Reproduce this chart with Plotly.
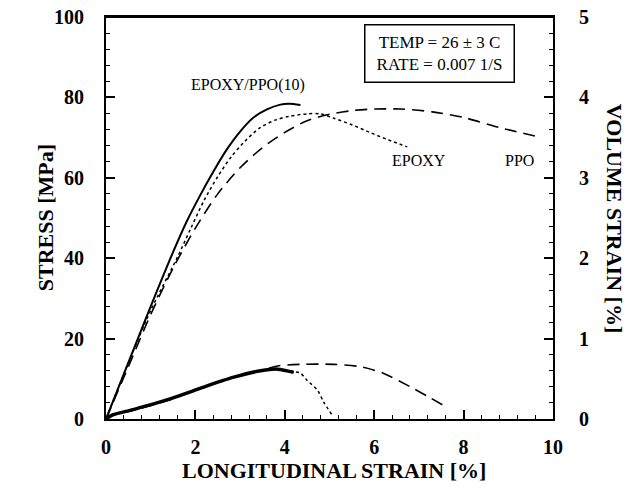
import plotly.graph_objects as go

# ---- data ----
# Stress curves (left axis, MPa) vs longitudinal strain (%)
blend_strain = [0, 0.5, 1.0, 1.5, 1.8, 2.1, 2.4, 2.7, 3.0, 3.3, 3.6, 3.9, 4.1, 4.35]
blend_stress = [0, 14, 28, 41.5, 49, 55.5, 61.5, 67, 71.5, 75, 77, 78.2, 78.4, 78.1]

epoxy_strain = [0, 0.5, 1.0, 1.6, 1.9, 2.2, 2.5, 2.8, 3.1, 3.45, 3.8, 4.1, 4.5, 4.8, 5.1, 5.5, 5.9, 6.3, 6.74]
epoxy_stress = [0, 14, 27, 40.3, 47.5, 54.5, 60.3, 65.2, 69, 72.5, 74.4, 75.3, 75.9, 75.9, 74.8, 73.2, 71.3, 69.5, 67.7]

ppo_strain = [0, 0.5, 1.0, 1.5, 2.0, 2.5, 3.0, 3.5, 4.0, 4.5, 5.0, 5.5, 6.0, 6.6, 7.3, 8.0, 8.8, 9.71]
ppo_stress = [0, 13, 26, 37.5, 47.5, 56, 62.5, 67.5, 71.3, 74.2, 75.8, 76.7, 77.1, 77.1, 76.4, 75.0, 72.5, 70.1]

# Volume strain curves (right axis, %) vs longitudinal strain (%)
blend_vs_strain = [0, 0.15, 0.63, 1.38, 2.12, 2.86, 3.46, 3.84, 4.2]
blend_vs = [0, 0.05, 0.12, 0.24, 0.385, 0.52, 0.60, 0.62, 0.58]

epoxy_vs_strain = [0, 0.15, 0.63, 1.38, 2.12, 2.86, 3.46, 3.84, 4.2, 4.35, 4.5, 4.73, 4.87, 5.07]
epoxy_vs = [0, 0.05, 0.12, 0.24, 0.385, 0.52, 0.60, 0.62, 0.59, 0.57, 0.48, 0.36, 0.21, 0.04]

ppo_vs_strain = [0, 0.15, 0.63, 1.38, 2.12, 2.86, 3.46, 3.84, 4.35, 5.09, 5.69, 6.2, 6.81, 7.2, 7.55]
ppo_vs = [0, 0.05, 0.11, 0.23, 0.38, 0.52, 0.60, 0.66, 0.68, 0.68, 0.65, 0.57, 0.40, 0.28, 0.17]

x_ticks = [0, 2, 4, 6, 8, 10]
y_ticks = [0, 20, 40, 60, 80, 100]
y2_ticks = [0, 1, 2, 3, 4, 5]

FONT = "Liberation Serif"

fig = go.Figure()

fig.add_trace(go.Scatter(x=blend_strain, y=blend_stress, mode="lines",
                         line=dict(color="black", width=2, shape="spline", smoothing=0.8)))
fig.add_trace(go.Scatter(x=epoxy_strain, y=epoxy_stress, mode="lines",
                         line=dict(color="black", width=1.5, dash="dot", shape="spline", smoothing=0.8)))
fig.add_trace(go.Scatter(x=ppo_strain, y=ppo_stress, mode="lines",
                         line=dict(color="black", width=1.6, dash="12px,7px", shape="spline", smoothing=0.8)))

fig.add_trace(go.Scatter(x=epoxy_vs_strain, y=epoxy_vs, mode="lines", yaxis="y2",
                         line=dict(color="black", width=1.5, dash="dot", shape="spline", smoothing=0.8)))
fig.add_trace(go.Scatter(x=ppo_vs_strain, y=ppo_vs, mode="lines", yaxis="y2",
                         line=dict(color="black", width=1.6, dash="12px,7px", shape="spline", smoothing=0.8)))
fig.add_trace(go.Scatter(x=blend_vs_strain, y=blend_vs, mode="lines", yaxis="y2",
                         line=dict(color="black", width=3.5, shape="spline", smoothing=0.8)))

tickfont = dict(family=FONT, size=20, color="black", weight="bold")

fig.update_layout(
    width=632, height=488,
    margin=dict(l=106, r=79, t=17, b=69),
    paper_bgcolor="white", plot_bgcolor="white",
    showlegend=False,
    xaxis=dict(range=[0, 10], tickvals=x_ticks, ticks="inside", ticklen=9, tickwidth=1.5,
               tickcolor="black", minor=dict(ticks="inside", dtick=0.4, ticklen=4, tickcolor="black", tickwidth=1.2),
               showline=True, linecolor="black", linewidth=2, mirror=True, automargin=False,
               showgrid=False, zeroline=False, tickfont=tickfont, ticklabelstandoff=9,
               ticklabeloverflow="allow"),
    yaxis=dict(range=[0, 100], tickvals=y_ticks, ticks="inside", ticklen=9, tickwidth=1.5,
               tickcolor="black", minor=dict(ticks="inside", dtick=4, ticklen=4, tickcolor="black", tickwidth=1.2),
               showline=True, linecolor="black", linewidth=2, automargin=False,
               showgrid=False, zeroline=False, tickfont=tickfont, ticklabelstandoff=16,
               ticklabeloverflow="allow"),
    yaxis2=dict(range=[0, 5], tickvals=y2_ticks, overlaying="y", side="right", ticks="inside",
                ticklen=9, tickwidth=1.5, tickcolor="black", automargin=False,
                minor=dict(ticks="inside", dtick=0.2, ticklen=4, tickcolor="black", tickwidth=1.2),
                showline=True, linecolor="black", linewidth=2,
                showgrid=False, zeroline=False, tickfont=tickfont, ticklabelstandoff=20,
                ticklabeloverflow="allow"),
)

# top frame line
fig.add_shape(type="line", xref="paper", yref="paper", x0=0, x1=1, y0=1, y1=1,
              line=dict(color="black", width=2))

titlefont = dict(family=FONT, size=22, color="black", weight="bold")
labfont = dict(family=FONT, size=16, color="black")

fig.add_annotation(text="LONGITUDINAL STRAIN [%]", xref="paper", yref="paper", x=0.51, y=-0.127,
                   xanchor="center", yanchor="middle", showarrow=False, font=titlefont)
fig.add_annotation(text="STRESS [MPa]", xref="paper", yref="paper", x=-0.136, y=0.5,
                   textangle=-90, xanchor="center", yanchor="middle", showarrow=False, font=titlefont)
fig.add_annotation(text="VOLUME STRAIN [%]", xref="paper", yref="paper", x=1.139, y=0.5,
                   textangle=90, xanchor="center", yanchor="middle", showarrow=False, font=titlefont)

fig.add_annotation(text="EPOXY/PPO(10)", x=3.18, y=83, showarrow=False, font=labfont)
fig.add_annotation(text="EPOXY", x=7.0, y=64.2, showarrow=False, font=labfont)
fig.add_annotation(text="PPO", x=9.26, y=64.2, showarrow=False, font=labfont)
fig.add_annotation(text="TEMP = 26 ± 3 C<br>RATE = 0.007 1/S", x=0.747, y=0.909,
                   xref="paper", yref="paper", xanchor="center", yanchor="middle",
                   showarrow=False, font=dict(family=FONT, size=17, color="black"),
                   width=142, height=50, borderpad=3,
                   bordercolor="black", borderwidth=1.5, bgcolor="white", align="center")

# remove the default 8px page margin so the figure sits at the window's corner; hide modebar
fig.write_html("out.html", config={"displayModeBar": False},
               post_script="document.body.style.margin='0px';")
